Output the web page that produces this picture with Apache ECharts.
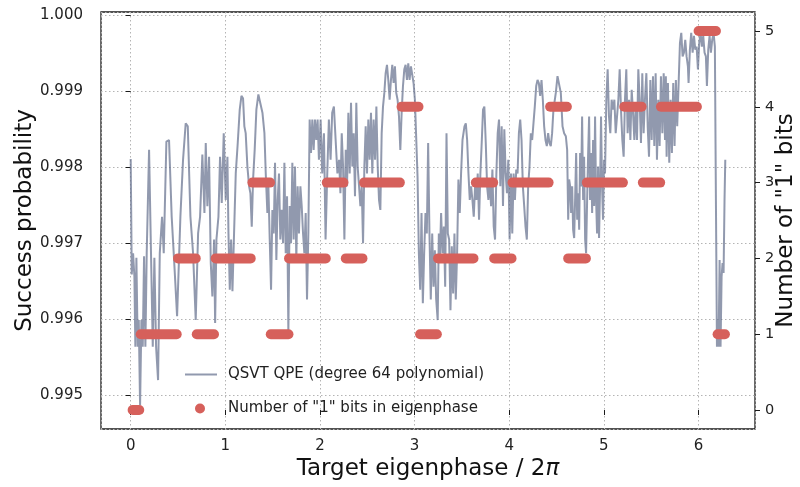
<!DOCTYPE html>
<html>
<head>
<meta charset="utf-8">
<script src="https://cdn.jsdelivr.net/npm/echarts@6/dist/echarts.min.js"></script>
<style>
  html, body { margin: 0; padding: 0; background: #fff; }
  #chart { width: 800px; height: 487px; }
</style>
</head>
<body>
<div id="chart"></div>
<script>
// target eigenphase (x) and measured success probability of the QSVT QPE run
const phase = [
  0.000, 0.011, 0.025, 0.039, 0.049, 0.060, 0.074, 0.085, 0.099, 0.113, 0.127, 0.141, 0.155, 0.169, 0.194, 0.215,
  0.233, 0.250, 0.268, 0.289, 0.307, 0.331, 0.349, 0.377, 0.405, 0.433, 0.462, 0.490, 0.525, 0.553, 0.581, 0.603,
  0.631, 0.659, 0.687, 0.712, 0.733, 0.757, 0.779, 0.793, 0.810, 0.828, 0.846, 0.863, 0.881, 0.892, 0.906, 0.927,
  0.944, 0.962, 0.983, 1.004, 1.022, 1.033, 1.047, 1.061, 1.075, 1.092, 1.110, 1.131, 1.152, 1.170, 1.187, 1.201,
  1.215, 1.233, 1.251, 1.265, 1.279, 1.293, 1.310, 1.328, 1.349, 1.370, 1.392, 1.413, 1.427, 1.444, 1.455, 1.469,
  1.483, 1.497, 1.511, 1.525, 1.539, 1.553, 1.567, 1.581, 1.596, 1.610, 1.624, 1.638, 1.652, 1.666, 1.680, 1.694,
  1.708, 1.722, 1.736, 1.750, 1.764, 1.778, 1.793, 1.807, 1.821, 1.835, 1.849, 1.863, 1.877, 1.891, 1.905, 1.919,
  1.933, 1.947, 1.961, 1.975, 1.989, 2.007, 2.024, 2.042, 2.059, 2.077, 2.094, 2.112, 2.129, 2.147, 2.184, 2.202,
  2.216, 2.230, 2.244, 2.258, 2.272, 2.286, 2.300, 2.314, 2.328, 2.342, 2.356, 2.370, 2.384, 2.398, 2.413, 2.427,
  2.441, 2.455, 2.469, 2.483, 2.497, 2.511, 2.525, 2.539, 2.553, 2.567, 2.582, 2.596, 2.610, 2.624, 2.638, 2.652,
  2.666, 2.680, 2.694, 2.708, 2.722, 2.736, 2.750, 2.764, 2.778, 2.792, 2.806, 2.820, 2.835, 2.849, 2.863, 2.877,
  2.891, 2.905, 2.919, 2.933, 2.947, 2.961, 2.975, 2.989, 3.003, 3.017, 3.031, 3.045, 3.059, 3.073, 3.087, 3.101,
  3.115, 3.129, 3.143, 3.157, 3.171, 3.186, 3.200, 3.214, 3.228, 3.244, 3.256, 3.266, 3.280, 3.294, 3.309, 3.323,
  3.337, 3.351, 3.365, 3.379, 3.393, 3.407, 3.421, 3.435, 3.449, 3.463, 3.477, 3.491, 3.506, 3.527, 3.541, 3.555,
  3.569, 3.583, 3.597, 3.611, 3.625, 3.639, 3.653, 3.667, 3.681, 3.695, 3.709, 3.723, 3.737, 3.752, 3.766, 3.780,
  3.794, 3.808, 3.822, 3.836, 3.850, 3.864, 3.878, 3.892, 3.906, 3.920, 3.934, 3.948, 3.962, 3.976, 3.990, 4.004,
  4.018, 4.032, 4.046, 4.060, 4.074, 4.088, 4.102, 4.116, 4.130, 4.144, 4.158, 4.172, 4.186, 4.200, 4.214, 4.228,
  4.242, 4.256, 4.270, 4.285, 4.299, 4.313, 4.327, 4.341, 4.355, 4.369, 4.383, 4.397, 4.411, 4.425, 4.439, 4.453,
  4.467, 4.492, 4.510, 4.528, 4.545, 4.563, 4.580, 4.598, 4.612, 4.623, 4.633, 4.644, 4.654, 4.665, 4.675, 4.686,
  4.696, 4.707, 4.718, 4.728, 4.739, 4.749, 4.760, 4.770, 4.781, 4.791, 4.802, 4.812, 4.823, 4.833, 4.844, 4.854,
  4.865, 4.876, 4.886, 4.897, 4.907, 4.918, 4.928, 4.939, 4.949, 4.960, 4.970, 4.981, 4.991, 5.002, 5.012, 5.026,
  5.040, 5.054, 5.068, 5.082, 5.097, 5.111, 5.125, 5.139, 5.153, 5.167, 5.181, 5.195, 5.209, 5.223, 5.237, 5.251,
  5.266, 5.280, 5.294, 5.308, 5.322, 5.336, 5.350, 5.364, 5.378, 5.392, 5.406, 5.420, 5.434, 5.449, 5.463, 5.477,
  5.491, 5.505, 5.519, 5.533, 5.547, 5.561, 5.575, 5.589, 5.603, 5.618, 5.632, 5.646, 5.655, 5.663, 5.677, 5.691,
  5.705, 5.719, 5.733, 5.747, 5.761, 5.775, 5.790, 5.804, 5.818, 5.832, 5.846, 5.860, 5.874, 5.888, 5.895, 5.909,
  5.923, 5.938, 5.952, 5.966, 5.980, 5.994, 6.008, 6.022, 6.036, 6.050, 6.064, 6.078, 6.089, 6.103, 6.117, 6.131,
  6.145, 6.159, 6.173, 6.184, 6.195, 6.205, 6.212, 6.223, 6.233, 6.244, 6.254, 6.265, 6.275, 6.283
];
const successProb = [
  0.99811, 0.99659, 0.99687, 0.99656, 0.99564, 0.99681, 0.99564, 0.99599, 0.99487, 0.99599, 0.99564, 0.99683, 0.99564, 0.99687, 0.99823, 0.99683,
  0.99564, 0.99681, 0.99564, 0.99520, 0.99687, 0.99735, 0.99687, 0.99834, 0.99836, 0.99735, 0.99670, 0.99604, 0.99735, 0.99810, 0.99858, 0.99854,
  0.99735, 0.99687, 0.99599, 0.99713, 0.99735, 0.99817, 0.99740, 0.99832, 0.99749, 0.99814, 0.99674, 0.99630, 0.99705, 0.99595, 0.99705, 0.99735,
  0.99814, 0.99753, 0.99845, 0.99757, 0.99814, 0.99713, 0.99639, 0.99705, 0.99637, 0.99713, 0.99792, 0.99832, 0.99876, 0.99894, 0.99891, 0.99854,
  0.99845, 0.99801, 0.99775, 0.99766, 0.99722, 0.99784, 0.99823, 0.99876, 0.99896, 0.99896, 0.99872, 0.99845, 0.99792, 0.99740, 0.99775, 0.99705,
  0.99639, 0.99744, 0.99713, 0.99806, 0.99678, 0.99757, 0.99792, 0.99705, 0.99744, 0.99700, 0.99806, 0.99687, 0.99762, 0.99584, 0.99749, 0.99700,
  0.99806, 0.99705, 0.99801, 0.99678, 0.99775, 0.99713, 0.99775, 0.99749, 0.99713, 0.99687, 0.99740, 0.99626, 0.99713, 0.99863, 0.99819, 0.99863,
  0.99823, 0.99863, 0.99836, 0.99863, 0.99810, 0.99863, 0.99792, 0.99845, 0.99705, 0.99792, 0.99863, 0.99810, 0.99872, 0.99880, 0.99792, 0.99810,
  0.99766, 0.99845, 0.99801, 0.99705, 0.99823, 0.99775, 0.99872, 0.99792, 0.99885, 0.99801, 0.99845, 0.99762, 0.99885, 0.99801, 0.99775, 0.99749,
  0.99775, 0.99700, 0.99801, 0.99854, 0.99792, 0.99863, 0.99810, 0.99872, 0.99792, 0.99863, 0.99810, 0.99880, 0.99801, 0.99757, 0.99744, 0.99845,
  0.99880, 0.99898, 0.99924, 0.99935, 0.99915, 0.99889, 0.99915, 0.99935, 0.99911, 0.99933, 0.99898, 0.99889, 0.99867, 0.99823, 0.99872, 0.99907,
  0.99929, 0.99935, 0.99915, 0.99937, 0.99915, 0.99933, 0.99935, 0.99911, 0.99889, 0.99889, 0.99788, 0.99687, 0.99639, 0.99740, 0.99621, 0.99687,
  0.99740, 0.99713, 0.99832, 0.99713, 0.99626, 0.99713, 0.99643, 0.99691, 0.99626, 0.99599, 0.99713, 0.99678, 0.99740, 0.99687, 0.99722, 0.99643,
  0.99845, 0.99713, 0.99705, 0.99612, 0.99696, 0.99634, 0.99713, 0.99626, 0.99687, 0.99784, 0.99740, 0.99792, 0.99836, 0.99854, 0.99858, 0.99836,
  0.99792, 0.99757, 0.99775, 0.99757, 0.99735, 0.99775, 0.99757, 0.99792, 0.99731, 0.99792, 0.99832, 0.99876, 0.99880, 0.99832, 0.99775, 0.99757,
  0.99784, 0.99749, 0.99797, 0.99722, 0.99705, 0.99792, 0.99845, 0.99863, 0.99775, 0.99854, 0.99749, 0.99850, 0.99792, 0.99766, 0.99810, 0.99705,
  0.99792, 0.99713, 0.99792, 0.99757, 0.99797, 0.99792, 0.99845, 0.99863, 0.99836, 0.99775, 0.99749, 0.99722, 0.99705, 0.99775, 0.99801, 0.99845,
  0.99836, 0.99858, 0.99880, 0.99907, 0.99915, 0.99911, 0.99894, 0.99915, 0.99889, 0.99854, 0.99836, 0.99828, 0.99845, 0.99832, 0.99828, 0.99845,
  0.99876, 0.99898, 0.99920, 0.99920, 0.99898, 0.99854, 0.99845, 0.99841, 0.99823, 0.99731, 0.99784, 0.99775, 0.99740, 0.99775, 0.99718, 0.99707,
  0.99757, 0.99819, 0.99731, 0.99766, 0.99718, 0.99819, 0.99775, 0.99867, 0.99757, 0.99814, 0.99705, 0.99687, 0.99757, 0.99814, 0.99867, 0.99757,
  0.99819, 0.99740, 0.99836, 0.99749, 0.99867, 0.99757, 0.99713, 0.99801, 0.99707, 0.99775, 0.99867, 0.99775, 0.99731, 0.99810, 0.99792, 0.99889,
  0.99929, 0.99867, 0.99845, 0.99889, 0.99876, 0.99889, 0.99845, 0.99845, 0.99889, 0.99929, 0.99876, 0.99836, 0.99814, 0.99889, 0.99929, 0.99845,
  0.99889, 0.99836, 0.99902, 0.99872, 0.99836, 0.99880, 0.99836, 0.99929, 0.99889, 0.99832, 0.99924, 0.99845, 0.99889, 0.99924, 0.99854, 0.99814,
  0.99915, 0.99836, 0.99920, 0.99828, 0.99924, 0.99810, 0.99889, 0.99828, 0.99920, 0.99845, 0.99924, 0.99836, 0.99920, 0.99814, 0.99911, 0.99806,
  0.99889, 0.99819, 0.99911, 0.99828, 0.99915, 0.99854, 0.99911, 0.99964, 0.99977, 0.99946, 0.99951, 0.99968, 0.99946, 0.99933, 0.99911, 0.99955,
  0.99977, 0.99951, 0.99973, 0.99955, 0.99959, 0.99929, 0.99964, 0.99977, 0.99959, 0.99973, 0.99951, 0.99946, 0.99907, 0.99955, 0.99973, 0.99951,
  0.99968, 0.99977, 0.99959, 0.99757, 0.99564, 0.99599, 0.99564, 0.99678, 0.99564, 0.99656, 0.99674, 0.99661, 0.99757, 0.99810
];

// runs of the "number of 1 bits" markers: start phase, end phase, bit count
const runStart = [0.02, 0.106, 0.50, 0.698, 0.898, 1.286, 1.480, 1.673, 2.072, 2.273, 2.466, 2.862, 3.058,
                  3.248, 3.647, 3.841, 4.035, 4.432, 4.623, 4.820, 5.215, 5.412, 5.603, 6.001, 6.202];
const runEnd   = [0.09, 0.486, 0.687, 0.880, 1.268, 1.472, 1.667, 2.061, 2.248, 2.449, 2.844, 3.041, 3.235,
                  3.622, 3.830, 4.024, 4.416, 4.609, 4.810, 5.201, 5.399, 5.595, 5.983, 6.184, 6.279];
const runBits  = [0, 1, 2, 1, 2, 3, 1, 2, 3, 2, 3, 4, 1,
                  2, 3, 2, 3, 4, 2, 3, 4, 3, 4, 5, 1];

const lineName = 'QSVT QPE (degree 64 polynomial)';
const bitsName = 'Number of "1" bits in eigenphase';
const font = 'DejaVu Sans';
const lineColor = 'rgba(98, 110, 140, 0.7)';
const dotColor = '#d6605b';
const gridLine = { type: [1.5, 2.5], color: '#b4b4b4', width: 1 };

const chart = echarts.init(document.getElementById('chart'));

const option = {
  animation: false,
  backgroundColor: '#fff',
  grid: {
    left: 101, right: 45, top: 12, bottom: 58,
    outerBoundsMode: 'none',
    show: true, borderColor: '#1a1a1a', borderWidth: 1.3
  },
  legend: [
    {
      // line entry
      orient: 'vertical',
      left: 185,
      top: 367,
      padding: 0,
      itemWidth: 32,
      itemHeight: 2,
      icon: 'rect',
      textStyle: { fontFamily: font, fontSize: 15, color: '#222', padding: [0, 0, 0, 6] },
      data: [lineName]
    },
    {
      // marker entry
      orient: 'vertical',
      left: 195,
      top: 401,
      padding: 0,
      itemWidth: 10,
      itemHeight: 10,
      icon: 'circle',
      textStyle: { fontFamily: font, fontSize: 15, color: '#222', padding: [0, 0, 0, 18] },
      data: [bitsName]
    }
  ],
  xAxis: {
    type: 'value',
    min: -0.314,
    max: 6.597,
    name: 'Target eigenphase / 2{i|π}',
    nameLocation: 'middle',
    nameGap: 29,
    nameMoveOverlap: false,
    nameTextStyle: {
      fontFamily: font, fontSize: 23, color: '#111',
      rich: { i: { fontFamily: font, fontSize: 23, fontStyle: 'italic', color: '#111' } }
    },
    axisLine: { show: false },
    axisTick: { length: 5, lineStyle: { color: '#1a1a1a' } },
    axisLabel: { fontFamily: font, fontSize: 15, color: '#222', margin: 10, showMinLabel: false, showMaxLabel: false },
    splitLine: { lineStyle: gridLine }
  },
  yAxis: [
    {
      type: 'value',
      position: 'left',
      min: 0.994556,
      max: 1.000045,
      name: 'Success probability',
      nameLocation: 'middle',
      nameGap: 64,
      nameMoveOverlap: false,
      nameTextStyle: { fontFamily: font, fontSize: 23, color: '#111' },
      axisLine: { show: false },
      axisTick: { show: true, length: 5, lineStyle: { color: '#1a1a1a' } },
      axisLabel: {
        fontFamily: font, fontSize: 15, color: '#222', margin: 18,
        showMinLabel: false, showMaxLabel: false,
        formatter: v => v.toFixed(3)
      },
      splitLine: { lineStyle: gridLine }
    },
    {
      type: 'value',
      position: 'right',
      min: -0.25,
      max: 5.25,
      name: 'Number of "1" bits',
      nameLocation: 'middle',
      nameGap: 20,
      nameMoveOverlap: false,
      nameTextStyle: { fontFamily: font, fontSize: 23, color: '#111' },
      axisLine: { show: false },
      axisTick: { show: true, length: 5, lineStyle: { color: '#1a1a1a' } },
      axisLabel: { fontFamily: font, fontSize: 14.5, color: '#222', margin: 10, showMinLabel: false, showMaxLabel: false },
      splitLine: { show: false }
    }
  ],
  series: [
    {
      name: lineName,
      type: 'line',
      yAxisIndex: 0,
      z: 2,
      symbol: 'none',
      data: phase.map((x, i) => [x, successProb[i]]),
      lineStyle: { color: lineColor, width: 2 },
      itemStyle: { color: lineColor }
    },
    {
      name: bitsName,
      type: 'custom',
      yAxisIndex: 1,
      z: 5,
      clip: true,
      itemStyle: { color: dotColor },
      encode: { x: [0, 1], y: 2 },
      data: runStart.map((s, i) => [s, runEnd[i], runBits[i]]),
      renderItem: (params, api) => {
        const p0 = api.coord([api.value(0), api.value(2)]);
        const p1 = api.coord([api.value(1), api.value(2)]);
        return {
          type: 'line',
          shape: { x1: p0[0], y1: p0[1], x2: p1[0], y2: p1[1] },
          style: { stroke: dotColor, lineWidth: 10, lineCap: 'round' }
        };
      }
    }
  ]
};

chart.setOption(option);
</script>
</body>
</html>
